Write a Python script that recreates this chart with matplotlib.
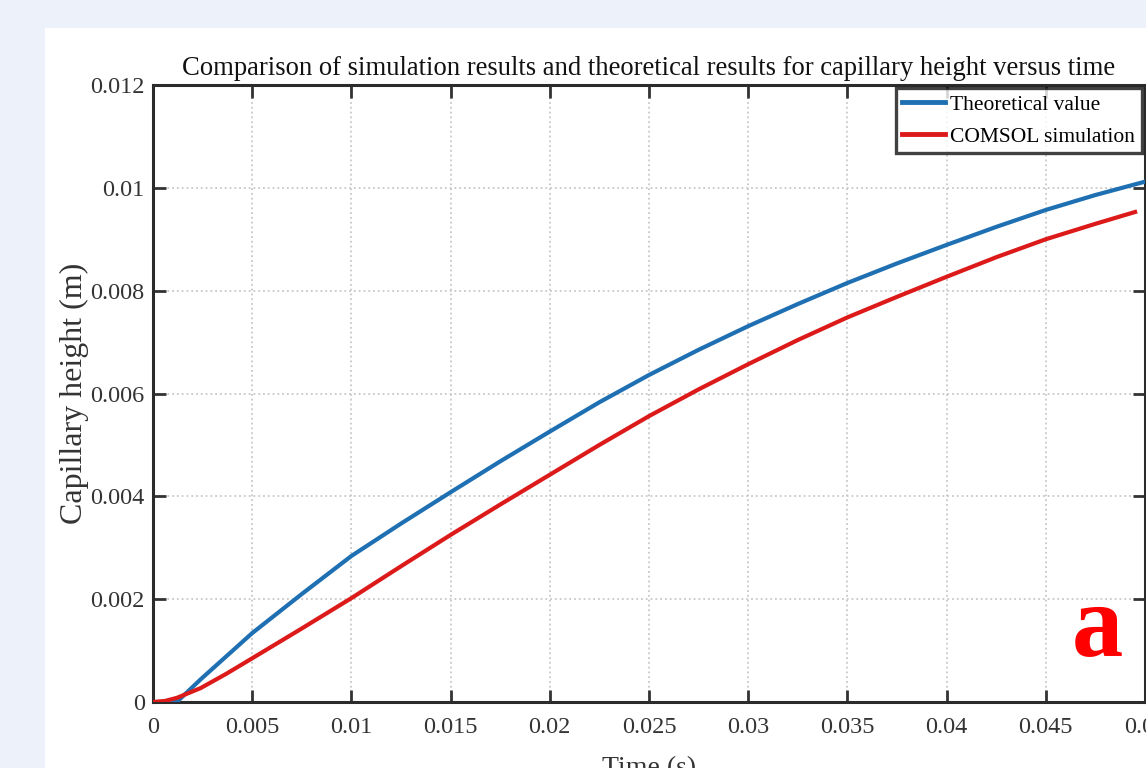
import matplotlib.pyplot as plt
from matplotlib.patches import Rectangle

# values (time in s, height in m)
t_theory = [0, 0.0012, 0.0024, 0.005, 0.0075, 0.01, 0.0125, 0.015, 0.0175, 0.02,
            0.0225, 0.025, 0.0275, 0.03, 0.0325, 0.035, 0.0375, 0.04, 0.0425,
            0.045, 0.0475, 0.05]
h_theory = [0, 0, 0.00044, 0.00134, 0.0021, 0.00284, 0.00347, 0.00408, 0.00468, 0.00526,
            0.00583, 0.00636, 0.00685, 0.00731, 0.00774, 0.00815, 0.00853, 0.00889, 0.00924,
            0.00957, 0.00986, 0.01012]

t_comsol = [0, 0.0006, 0.0012, 0.0024, 0.0037, 0.005, 0.0075, 0.01, 0.0125, 0.015, 0.0175, 0.02,
            0.0225, 0.025, 0.0275, 0.03, 0.0325, 0.035, 0.0375, 0.04, 0.0425,
            0.045, 0.0475, 0.0495]
h_comsol = [0, 0.00002, 0.00008, 0.00027, 0.00055, 0.00085, 0.00143, 0.00202, 0.00264, 0.00325,
            0.00384, 0.00442, 0.005, 0.00556, 0.00608, 0.00657, 0.00704, 0.00748, 0.00788,
            0.00827, 0.00865, 0.009, 0.0093, 0.00953]

xticks = [0, 0.005, 0.01, 0.015, 0.02, 0.025, 0.03, 0.035, 0.04, 0.045, 0.05]
xtick_labels = ['0', '0.005', '0.01', '0.015', '0.02', '0.025', '0.03', '0.035', '0.04', '0.045', '0.05']
yticks = [0, 0.002, 0.004, 0.006, 0.008, 0.01, 0.012]
ytick_labels = ['0', '0.002', '0.004', '0.006', '0.008', '0.01', '0.012']

plt.rcParams['font.family'] = ['Liberation Serif', 'DejaVu Serif']

W, H = 1146, 768
fig = plt.figure(figsize=(W / 100, H / 100), dpi=100, facecolor='#edf2fa')
# white panel behind the chart
fig.patches.append(Rectangle((45 / W, 0), 1 - 45 / W, (H - 28) / H,
                             transform=fig.transFigure, facecolor='white',
                             edgecolor='none', zorder=-10))

ax = fig.add_axes([153 / W, (H - 702) / H, (1145 - 153) / W, (702 - 85) / H])
ax.set_facecolor('white')

ax.plot(t_theory, h_theory, color='#1f70b3', lw=3.0, label='Theoretical value', zorder=3)
ax.plot(t_comsol, h_comsol, color='#dd1a1a', lw=3.0, label='COMSOL simulation', zorder=3)

ax.set_xlim(0, 0.05)
ax.set_ylim(0, 0.012)
ax.set_xticks(xticks)
ax.set_xticklabels(xtick_labels)
ax.set_yticks(yticks)
ax.set_yticklabels(ytick_labels)

ax.grid(True, linestyle=':', color='#c8c8c8', lw=1.3)
ax.tick_params(direction='in', length=9, width=2, top=True, right=True,
               labelsize=17.5, colors='#333333', labelcolor='#333333')
ax.tick_params(axis='x', pad=11)
ax.tick_params(axis='y', pad=6)
for s in ax.spines.values():
    s.set_linewidth(2.2)
    s.set_color('#2b2b2b')

ax.set_title('Comparison of simulation results and theoretical results for capillary height versus time',
             fontsize=19.2, pad=7, color='#111111')
ax.set_xlabel('Time (s)', fontsize=20, labelpad=13, color='#333333')
ax.set_ylabel('Capillary height (m)', fontsize=23, labelpad=0.5, color='#333333')

leg = ax.legend(loc='upper right', fontsize=15.5, frameon=True, fancybox=False,
                borderaxespad=0.15, handlelength=2.0, handletextpad=0.25,
                borderpad=0.3, labelspacing=0.55)
leg.get_frame().set_edgecolor('#111111')
leg.get_frame().set_linewidth(2.4)
for line in leg.get_lines():
    line.set_linewidth(3.5)

ax.text(0.978, 0.074, 'a', transform=ax.transAxes, color='red', fontsize=74,
        fontweight='bold', ha='right', va='baseline')

fig.savefig('out.png', dpi=100, facecolor=fig.get_facecolor())
